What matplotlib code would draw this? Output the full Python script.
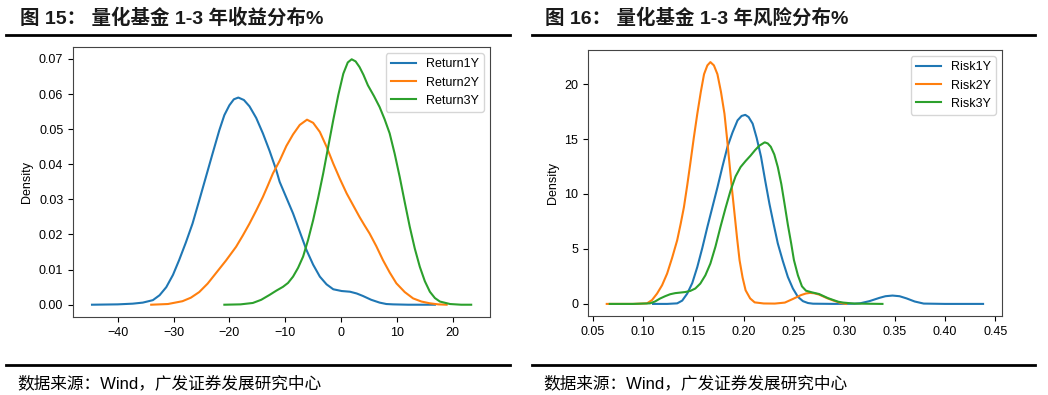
import matplotlib
matplotlib.use("Agg")
import matplotlib.pyplot as plt
from matplotlib.lines import Line2D
from matplotlib.ticker import FormatStrFormatter

plt.rcParams['font.family'] = ['Liberation Sans', 'Noto Sans CJK SC']
plt.rcParams['font.size'] = 9
cjk = ['Liberation Sans', 'Noto Sans CJK SC']

# density curves (x, density)
ret1_x = [-44.6, -40.0, -37.3, -35.5, -33.7, -32.5, -31.3, -30.1, -29.0, -27.8, -26.6, -25.4,
          -24.2, -23.0, -21.8, -20.9, -20.0, -19.2, -18.4, -17.4, -16.4, -15.2, -14.0, -12.8,
          -11.6, -11.0, -9.8, -8.6, -7.4, -6.2, -5.0, -3.8, -2.6, -1.4, 0.1, 1.6, 2.8, 3.9,
          5.4, 6.9, 8.1, 9.3, 12.0, 16.8]
ret1_y = [0.0, 0.0001, 0.0003, 0.0006, 0.0013, 0.0027, 0.0050, 0.0085, 0.0127, 0.0177, 0.0231,
          0.0297, 0.0364, 0.0431, 0.0497, 0.0540, 0.0568, 0.0585, 0.0590, 0.0583, 0.0565, 0.0532,
          0.0488, 0.0438, 0.0383, 0.0350, 0.0305, 0.0260, 0.0208, 0.0156, 0.0114, 0.0080, 0.0058,
          0.0044, 0.0039, 0.0037, 0.0032, 0.0025, 0.0014, 0.0006, 0.0002, 0.0001, 0.0, 0.0]

ret2_x = [-34.0, -31.0, -28.4, -26.9, -25.4, -23.9, -22.4, -20.6, -18.8, -17.6, -16.4, -15.2,
          -14.0, -13.1, -12.2, -11.0, -9.8, -8.6, -7.4, -6.1, -5.0, -3.8, -2.6, -1.4, -0.2,
          1.0, 2.2, 3.3, 4.2, 5.1, 6.3, 7.5, 8.7, 9.9, 11.4, 12.9, 14.4, 15.9, 17.4, 18.9]
ret2_y = [0.0, 0.0002, 0.0010, 0.0020, 0.0036, 0.0060, 0.0090, 0.0126, 0.0165, 0.0197, 0.0231,
          0.0268, 0.0307, 0.0340, 0.0374, 0.0410, 0.0452, 0.0485, 0.0512, 0.0527, 0.0518, 0.0492,
          0.0450, 0.0402, 0.0358, 0.0317, 0.0282, 0.0250, 0.0226, 0.0203, 0.0167, 0.0127, 0.0092,
          0.0061, 0.0036, 0.0018, 0.0009, 0.0004, 0.0001, 0.0]

ret3_x = [-20.9, -18.0, -15.8, -14.3, -12.8, -11.6, -10.4, -9.5, -8.6, -7.7, -6.8, -5.9, -5.0,
          -4.1, -3.2, -2.3, -1.4, -0.5, 0.4, 1.2, 1.9, 2.6, 3.3, 4.0, 4.8, 5.9, 6.9, 7.8, 8.7,
          9.6, 10.5, 11.4, 12.3, 13.2, 14.1, 15.0, 15.9, 16.8, 17.7, 19.5, 21.5, 23.3]
ret3_y = [0.0, 0.0001, 0.0005, 0.0014, 0.0028, 0.0040, 0.0051, 0.0062, 0.0080, 0.0105, 0.0137,
          0.0185, 0.0241, 0.0305, 0.0374, 0.0450, 0.0526, 0.0597, 0.0658, 0.0690, 0.0699, 0.0693,
          0.0677, 0.0655, 0.0625, 0.0594, 0.0563, 0.0528, 0.0488, 0.0430, 0.0364, 0.0292, 0.0222,
          0.0160, 0.0108, 0.0067, 0.0037, 0.0019, 0.0009, 0.0002, 0.0, 0.0]

risk1_x = [0.110, 0.124, 0.134, 0.139, 0.144, 0.149, 0.154, 0.159, 0.164, 0.169, 0.174, 0.179,
           0.184, 0.189, 0.194, 0.198, 0.2017, 0.205, 0.209, 0.213, 0.2173, 0.2215, 0.2257,
           0.230, 0.234, 0.239, 0.244, 0.249, 0.254, 0.259, 0.264, 0.269, 0.290, 0.310, 0.316,
           0.325, 0.335, 0.341, 0.348, 0.355, 0.362, 0.370, 0.379, 0.400, 0.438]
risk1_y = [0.0, 0.0, 0.05, 0.3, 0.94, 1.9, 3.36, 5.1, 7.0, 8.8, 10.6, 12.5, 14.3, 15.6, 16.7, 17.1,
           17.2, 17.0, 16.4, 15.1, 13.4, 11.2, 9.1, 7.2, 5.5, 3.9, 2.45, 1.4, 0.64, 0.25, 0.08,
           0.02, 0.0, 0.02, 0.06, 0.25, 0.55, 0.70, 0.76, 0.70, 0.50, 0.22, 0.03, 0.0, 0.0]

risk2_x = [0.064, 0.090, 0.104, 0.109, 0.114, 0.119, 0.124, 0.129, 0.134, 0.1375, 0.1407, 0.144,
           0.147, 0.1505, 0.154, 0.1575, 0.1607, 0.164, 0.167, 0.1705, 0.174, 0.1775, 0.181,
           0.1835, 0.186, 0.1885, 0.191, 0.1935, 0.196, 0.199, 0.202, 0.2065, 0.211, 0.220, 0.231,
           0.241, 0.249, 0.257, 0.262, 0.266, 0.270, 0.275, 0.283, 0.290, 0.296, 0.302]
risk2_y = [0.0, 0.0, 0.05, 0.35, 0.94, 1.7, 2.76, 4.2, 5.79, 7.3, 8.8, 10.8, 12.75, 15.1, 17.3,
           19.3, 20.9, 21.7, 22.0, 21.7, 20.9, 19.3, 17.3, 15.1, 12.75, 10.4, 8.2, 6.0, 3.97, 2.4,
           1.24, 0.5, 0.14, 0.04, 0.03, 0.12, 0.45, 0.80, 0.95, 1.0, 0.97, 0.85, 0.52, 0.28, 0.1, 0.0]

risk3_x = [0.067, 0.090, 0.107, 0.112, 0.117, 0.122, 0.127, 0.132, 0.137, 0.142, 0.147, 0.152,
           0.157, 0.162, 0.167, 0.172, 0.177, 0.182, 0.187, 0.192, 0.197, 0.202, 0.207, 0.2115,
           0.2157, 0.221, 0.224, 0.227, 0.2305, 0.234, 0.2375, 0.2407, 0.244, 0.2473, 0.250, 0.254,
           0.258, 0.262, 0.268, 0.275, 0.279, 0.284, 0.289, 0.294, 0.299, 0.310, 0.338]
risk3_y = [0.0, 0.0, 0.05, 0.22, 0.49, 0.7, 0.88, 0.98, 1.03, 1.08, 1.18, 1.4, 1.85, 2.6, 3.67, 5.2,
           7.0, 8.7, 10.3, 11.6, 12.45, 13.0, 13.5, 14.0, 14.4, 14.7, 14.6, 14.3, 13.6, 12.45,
           10.9, 9.1, 7.2, 5.5, 4.0, 2.6, 1.6, 1.2, 1.05, 0.9, 0.73, 0.52, 0.36, 0.2, 0.12, 0.03, 0.0]

ret_names = ["Return1Y", "Return2Y", "Return3Y"]
risk_names = ["Risk1Y", "Risk2Y", "Risk3Y"]
colors = ["#1f77b4", "#ff7f0e", "#2ca02c"]

fig = plt.figure(figsize=(10.48, 3.95), dpi=100)

ax1 = fig.add_axes([0.0697, 0.1975, 0.398, 0.6835])
for xs, ys, name, c in zip([ret1_x, ret2_x, ret3_x], [ret1_y, ret2_y, ret3_y], ret_names, colors):
    ax1.plot(xs, ys, color=c, linewidth=1.5, label=name)
ax1.set_ylabel("Density")
ax1.set_xticks([-40, -30, -20, -10, 0, 10, 20])
ax1.set_yticks([0, 0.01, 0.02, 0.03, 0.04, 0.05, 0.06, 0.07])
ax1.yaxis.set_major_formatter(FormatStrFormatter("%.2f"))
ax1.legend(loc="upper right", fontsize=9)

ax2 = fig.add_axes([0.561, 0.2, 0.395, 0.6734])
for xs, ys, name, c in zip([risk1_x, risk2_x, risk3_x], [risk1_y, risk2_y, risk3_y], risk_names, colors):
    ax2.plot(xs, ys, color=c, linewidth=1.5, label=name)
ax2.set_ylabel("Density")
ax2.set_xticks([0.05, 0.10, 0.15, 0.20, 0.25, 0.30, 0.35, 0.40, 0.45])
ax2.xaxis.set_major_formatter(FormatStrFormatter("%.2f"))
ax2.set_yticks([0, 5, 10, 15, 20])
ax2.legend(loc="upper right", fontsize=9)

for ax in (ax1, ax2):
    for sp in ax.spines.values():
        sp.set_color("#444444")

# titles, rules and source notes
fig.text(20 / 1048, 1 - 18 / 395, "图 15： 量化基金 1-3 年收益分布%", family=cjk, fontsize=14,
         fontweight="bold", color="#1a1a1a", va="center", ha="left")
fig.text(545 / 1048, 1 - 18 / 395, "图 16： 量化基金 1-3 年风险分布%", family=cjk, fontsize=14,
         fontweight="bold", color="#1a1a1a", va="center", ha="left")
for x0, x1 in [(6, 510), (532, 1035)]:
    for yy in [35, 365]:
        fig.add_artist(Line2D([x0 / 1048, x1 / 1048], [1 - yy / 395, 1 - yy / 395],
                              transform=fig.transFigure, color="black", linewidth=2))
fig.text(17 / 1048, 1 - 383 / 395, "数据来源：Wind，广发证券发展研究中心", family=cjk,
         fontsize=12, color="black", va="center", ha="left")
fig.text(543 / 1048, 1 - 383 / 395, "数据来源：Wind，广发证券发展研究中心", family=cjk,
         fontsize=12, color="black", va="center", ha="left")

fig.savefig("out.png", dpi=100)
